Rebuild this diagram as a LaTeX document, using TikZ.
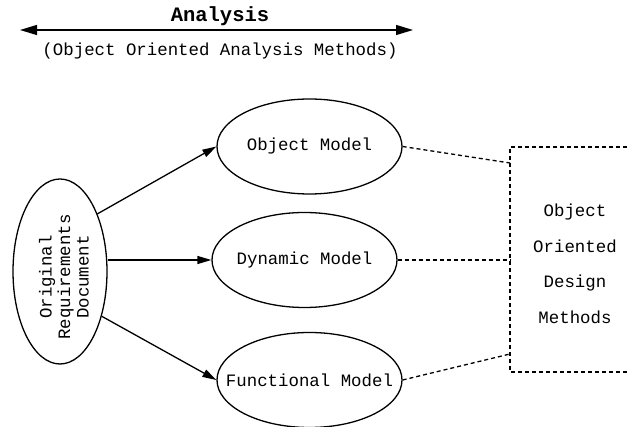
\documentclass[tikz,border=0pt]{standalone}
\usepackage{fontspec}
\setmainfont{Liberation Mono}
\setmonofont{Liberation Mono}
\usetikzlibrary{shapes.geometric,arrows.meta}
\begin{document}
\begin{tikzpicture}[x=1pt,y=-1pt,
  every node/.style={font=\fontsize{17.4}{20}\selectfont},
  model/.style={draw, ellipse, line width=1.3pt, inner sep=0pt,
                minimum width=185pt, minimum height=95pt},
  flow/.style={line width=1.3pt, -{Triangle[length=14pt,width=8pt]}},
  span/.style={line width=1.3pt,
               {Triangle[length=17pt,width=10pt]}-{Triangle[length=17pt,width=10pt]}},
  link/.style={line width=1.3pt, dash pattern=on 4pt off 3pt},
]
\useasboundingbox (0,0) rectangle (627,427);

% heading with double-headed span arrow
\node[font=\bfseries\fontsize{20.5}{24}\selectfont] (title) at (220,16) {Analysis};
\coordinate (spanL) at (20,30);
\coordinate (spanR) at (413,30);
\draw[span] (spanL) -- (spanR);
\node (sub) at (220,51) {(Object Oriented Analysis Methods)};

% source document
\node[draw, ellipse, line width=1.3pt, inner sep=0pt,
      minimum width=94pt, minimum height=185pt] (req) at (60,271.5) {};
\node[rotate=90, align=center, font=\fontsize{17.4}{18.5}\selectfont]
      (reqtext) at (64,277) {Original\\Requirements\\Document};

% the three models (labels kept zero-width so the ellipses stay equal)
\node[model] (obj) at (309.5,146.5) {\makebox[0pt]{Object Model}};
\node[model] (dyn) at (304.5,260) {\makebox[0pt]{Dynamic Model}};
\node[model] (fun) at (309.5,380) {\makebox[0pt]{Functional Model}};

\draw[flow] (req.57) -- (obj.west);
\draw[flow] (req.east |- dyn.west) -- (dyn.west);
\draw[flow] (req.-47) -- (fun.west);

% design methods region (open to the right)
\coordinate (boxTR) at (627,147);
\coordinate (boxTL) at (510,147);
\coordinate (boxBL) at (510,372);
\coordinate (boxBR) at (627,372);
\draw[link] (boxTR) -- (boxTL) -- (boxBL) -- (boxBR);
\node[align=center, font=\fontsize{17.4}{35.5}\selectfont] (odm) at (575,264)
      {Object\\Oriented\\Design\\Methods};

\coordinate (hookA) at (510,163);
\coordinate (hookB) at (510,260);
\coordinate (hookC) at (510,354);
\draw[link] (obj.east) -- (hookA);
\draw[link] (dyn.east) -- (hookB);
\draw[link] (fun.east) -- (hookC);
\end{tikzpicture}
\end{document}
